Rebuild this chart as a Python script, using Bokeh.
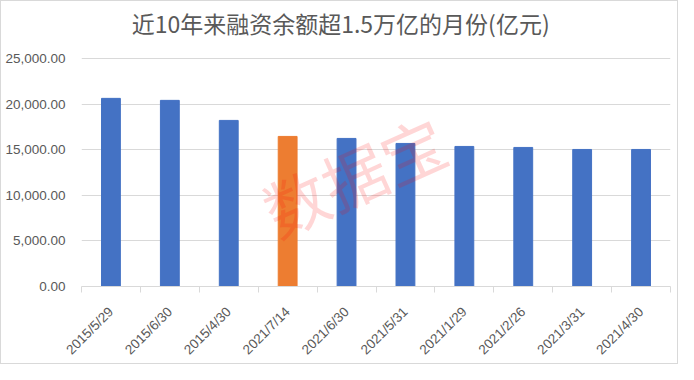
import math
from bokeh.plotting import figure
from bokeh.models import ColumnDataSource, FixedTicker, Range1d, Label, NumeralTickFormatter
from bokeh.embed import file_html
from bokeh.resources import INLINE

title_text = "近10年来融资余额超1.5万亿的月份(亿元)"
dates = ["2015/5/29", "2015/6/30", "2015/4/30", "2021/7/14", "2021/6/30",
         "2021/5/31", "2021/1/29", "2021/2/26", "2021/3/31", "2021/4/30"]
balances = [20660, 20440, 18240, 16480, 16260, 15710, 15380, 15270, 15050, 15050]
highlight = "2021/7/14"
y_ticks = [0, 5000, 10000, 15000, 20000, 25000]

BLUE = "#4472C4"
ORANGE = "#ED7D31"
GRID = "#d9d9d9"
TEXT = "#595959"

W, H = 678, 364
pos = [i + 0.5 for i in range(len(dates))]
colors = [ORANGE if d == highlight else BLUE for d in dates]
src = ColumnDataSource(dict(x=pos, top=balances, color=colors, date=dates))

# extra headroom above the top tick holds the title inside the frame
Y_TOP = 30200
p = figure(width=W, height=H, output_backend="svg", toolbar_location=None,
           x_range=Range1d(0, len(dates)), y_range=Range1d(y_ticks[0], Y_TOP),
           min_border_left=80, min_border_right=9, min_border_top=10, min_border_bottom=74)

ttl = Label(x=len(dates) / 2 - 0.6, y=Y_TOP * 0.96, text=title_text,
            text_font="Noto Sans CJK SC", text_font_size="23px", text_color=TEXT,
            text_align="center", text_baseline="middle")
p.add_layout(ttl)

p.vbar(x="x", top="top", width=0.32, color="color", source=src)

p.outline_line_color = None
p.xgrid.grid_line_color = None
p.ygrid.grid_line_color = GRID
p.ygrid.ticker = FixedTicker(ticks=y_ticks)

ya = p.yaxis[0]
ya.ticker = FixedTicker(ticks=y_ticks)
ya.formatter = NumeralTickFormatter(format="0,0.00")
ya.axis_line_color = None
ya.major_tick_line_color = None
ya.minor_tick_line_color = None
ya.major_label_text_font = "Liberation Sans"
ya.major_label_text_font_size = "13.5px"
ya.major_label_text_color = TEXT
ya.major_label_standoff = 10

xa = p.xaxis[0]
xa.ticker = FixedTicker(ticks=pos, minor_ticks=list(range(len(dates) + 1)))
xa.major_label_overrides = {p_: d for p_, d in zip(pos, dates)}
xa.major_label_orientation = math.pi / 4
xa.major_label_text_font = "Liberation Sans"
xa.major_label_text_font_size = "13.5px"
xa.major_label_text_color = TEXT
xa.axis_line_color = GRID
xa.major_tick_line_color = None
xa.minor_tick_line_color = GRID
xa.minor_tick_out = 6
xa.minor_tick_in = 0
xa.major_label_standoff = 17

wm = Label(x=4.62, y=12300, text="数据宝", text_font="Noto Sans CJK SC",
           text_font_size="64px", text_color="#ff0000", text_alpha=0.16,
           angle=0.42, text_align="center", text_baseline="middle", level="overlay")
p.add_layout(wm)

p.styles = {"border": "1px solid #d9d9d9", "box-sizing": "border-box"}

open("out.html", "w").write(file_html(p, INLINE))
